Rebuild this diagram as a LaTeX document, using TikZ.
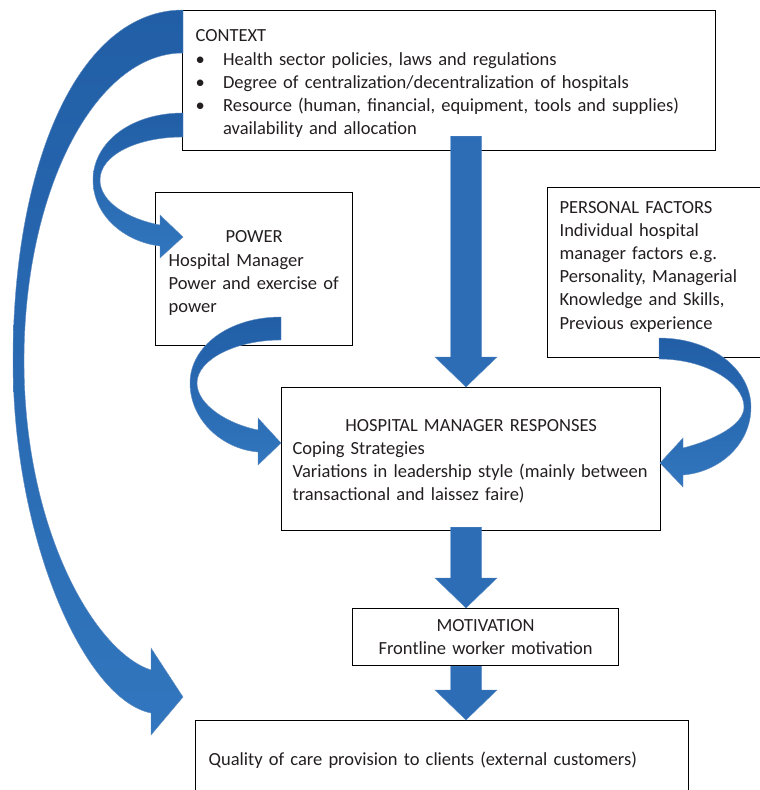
\documentclass[tikz,border=0pt]{standalone}
\usepackage{fontspec}
\setmainfont{Carlito}
\usetikzlibrary{calc}

\definecolor{arrowdark}{RGB}{33,94,166}
\definecolor{arrowlight}{RGB}{49,118,190}
\definecolor{arrowmid}{RGB}{45,109,181}
\definecolor{textgray}{RGB}{35,31,32}
\newcommand{\cbul}{\makebox[27.5pt][l]{\textbullet}}

\begin{document}
\begin{tikzpicture}[x=1pt, y=-1pt]
\tikzstyle{box} = [draw, line width=1.2pt, anchor=north west, inner ysep=0pt, align=left, text=textgray, font=\fontsize{18.5}{23.2}\selectfont]
\tikzstyle{barrow} = [fill=arrowmid, draw=arrowmid!80!white, line width=0.4pt]
\tikzstyle{carrow} = [top color=arrowdark, bottom color=arrowlight, draw=arrowdark!70!white, line width=0.4pt]
\useasboundingbox (0,0) rectangle (760,790);

% boxes
\node[box, minimum width=533pt, minimum height=140pt, inner xsep=13pt, text width=507pt] (context) at (182,10) {\\[-5pt]CONTEXT\\
\cbul Health sector policies, laws and regulations\\
\cbul Degree of centralization/decentralization of hospitals\\
\cbul \mbox{Resource (human, financial, equipment, tools and supplies)}\\
\hspace*{27.5pt}availability and allocation};
\node[box, minimum width=197pt, minimum height=153pt, inner xsep=13pt, text width=171pt] (power) at (155,192) {\\[-3pt]\makebox[171pt]{POWER}\\Hospital Manager\\\mbox{Power and exercise of}\\power};
\node[box, minimum width=230pt, minimum height=170pt, inner xsep=12pt, text width=206pt] (personal) at (547,187) {PERSONAL FACTORS\\Individual hospital\\manager factors e.g.\\Personality, Managerial\\Knowledge and Skills,\\Previous experience\\[-8pt]\mbox{}};
\node[box, minimum width=379pt, minimum height=143pt, inner xsep=11pt, text width=357pt] (hmr) at (281,387) {\\[-7pt]\makebox[357pt]{HOSPITAL MANAGER RESPONSES}\\Coping Strategies\\\mbox{Variations in leadership style (mainly between}\\transactional and laissez faire)};
\node[box, minimum width=266pt, minimum height=57pt, inner xsep=0pt, text width=266pt, align=center] (motiv) at (352,608) {MOTIVATION\\Frontline worker motivation};
\node[box, minimum width=493pt, minimum height=80pt, inner xsep=13pt, text width=467pt] (qual) at (195,720) {Quality of care provision to clients (external customers)};

% straight block arrows
\coordinate (ax) at (466,0);
\coordinate (a1s) at ($(context.south -| ax)+(0,-15)$);
\coordinate (a1e) at (hmr.north -| ax);
\coordinate (a2s) at ($(hmr.south -| ax)+(0,-4)$);
\coordinate (a2e) at (motiv.north -| ax);
\coordinate (a3s) at (motiv.south -| ax);
\coordinate (a3e) at (qual.north -| ax);
\foreach \s/\e in {a1s/a1e, a2s/a2e, a3s/a3e}
  \path[barrow] ([xshift=-15.5pt]\s) -- ([xshift=-15.5pt,yshift=30pt]\e) -- ([xshift=-31pt,yshift=30pt]\e) -- (\e)
    -- ([xshift=31pt,yshift=30pt]\e) -- ([xshift=15.5pt,yshift=30pt]\e) -- ([xshift=15.5pt]\s) -- cycle;

% curved arrows
\path[carrow] (183,10) .. controls (80,10) and (13,160) .. (13,361) .. controls (13,540) and (85,700) .. (151,713)
  -- (151,735) -- (183,697) -- (151,648) -- (151,670) .. controls (95,652) and (24,530) .. (24,361)
  .. controls (24,191) and (95,53) .. (183,53) -- cycle;
\path[carrow] (183,113) .. controls (130,113) and (93,143) .. (93,180) .. controls (93,216) and (125,242) .. (160,246)
  -- (160,258) -- (183,237) -- (160,215) -- (160,225) .. controls (128,219) and (100,202) .. (100,180)
  .. controls (100,155) and (137,137) .. (183,137) -- cycle;
\path[carrow] (281,317) .. controls (228,317) and (190,347) .. (190,383) .. controls (190,420) and (222,449) .. (258,452)
  -- (258,465) -- (281,443) -- (258,418) -- (258,430) .. controls (228,424) and (197,405) .. (197,383)
  .. controls (197,360) and (235,340) .. (281,340) -- cycle;
\path[carrow] (659,338) .. controls (712,338) and (751,370) .. (751,407) .. controls (751,444) and (720,472) .. (683,475)
  -- (683,487) -- (660,463) -- (683,438) -- (683,448) .. controls (714,440) and (744,425) .. (744,407)
  .. controls (744,383) and (706,359) .. (659,359) -- cycle;
\end{tikzpicture}
\end{document}
